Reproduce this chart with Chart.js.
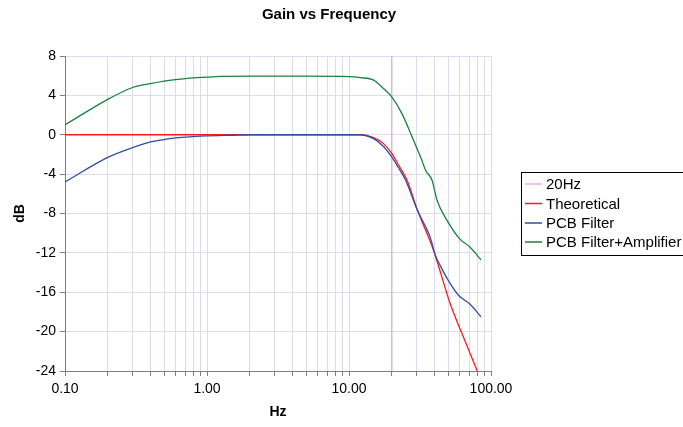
<!DOCTYPE html>
<html lang="en">
<head>
    <meta charset="UTF-8">
    <title>Gain vs Frequency</title>
    <style>
        body {
            margin: 0;
            padding: 0;
            background-color: #ffffff;
        }

        #chart-container {
            width: 683px;
            height: 427px;
        }
    </style>
</head>
<body>
    <div id="chart-container">
        <canvas id="gainChart"></canvas>
    </div>

    <script src="https://cdn.jsdelivr.net/npm/chart.js"></script>
    <script>
        // 20Hz marker line
        const markerFreq = [20, 20];
        const markerGain = [8, -24];

        // Theoretical response
        const theoFreq = [0.1, 0.2, 0.5, 1, 2, 5, 8, 10, 12, 14.9, 17.5, 20, 22.4, 25.6, 30.4, 39.4, 51.7, 65, 80];
        const theoGain = [0, 0, 0, 0, 0, 0, 0, 0, 0, -0.3, -0.9, -1.9, -3.1, -4.6, -7.7, -11.75, -17.2, -20.8, -24];

        // Measured PCB filter
        const pcbFreq = [0.1, 0.2, 0.3, 0.4, 0.5, 0.6, 0.8, 1, 1.5, 2, 5, 10, 12, 14.9, 17.5, 20, 22.4, 25, 30.4, 34.5, 37.3, 40.5, 44.3, 50, 59, 71, 85];
        const pcbGain = [-4.8, -2.3, -1.3, -0.73, -0.49, -0.32, -0.19, -0.12, -0.05, 0, 0, 0, 0, -0.4, -1.2, -2.25, -3.4, -4.6, -7.7, -9.3, -10.4, -12.2, -13.4, -14.8, -16.3, -17.2, -18.5];

        // Measured PCB filter + amplifier
        const ampFreq = [0.1, 0.2, 0.3, 0.4, 0.5, 0.6, 0.8, 1, 1.25, 2, 5, 10, 12, 14.9, 17.5, 20, 23.6, 27.8, 32.6, 34.6, 38.4, 41.8, 49, 60.4, 71, 85];
        const ampGain = [1.0, 3.6, 4.8, 5.2, 5.45, 5.6, 5.78, 5.85, 5.92, 5.95, 5.95, 5.9, 5.8, 5.55, 4.7, 3.85, 2.15, -0.2, -2.6, -3.6, -4.6, -6.7, -8.7, -10.6, -11.4, -12.7];

        // Axis ticks
        const yTicks = [-24, -20, -16, -12, -8, -4, 0, 4, 8];
        const decades = [0.1, 1, 10];
        const xTickLabels = ['0.10', '1.00', '10.00', '100.00'];

        const toPoints = (xs, ys) => xs.map((x, i) => ({ x: x, y: ys[i] }));

        const xTickValues = [];
        decades.forEach(d => {
            for (let m = 1; m <= 9; m++) {
                xTickValues.push(+(d * m).toPrecision(3));
            }
        });
        xTickValues.push(100);

        const FONT = 'Arial, "Liberation Sans", sans-serif';

        // Title and legend box drawn like the original spreadsheet chart
        const decorPlugin = {
            id: 'decor',
            afterDraw(chart) {
                const ctx = chart.ctx;
                ctx.save();
                ctx.fillStyle = '#000';
                ctx.font = 'bold 15px ' + FONT;
                ctx.textAlign = 'center';
                ctx.textBaseline = 'middle';
                ctx.fillText('Gain vs Frequency', 329, 15);

                // legend (runs off the right edge, as in the original)
                ctx.strokeStyle = '#000';
                ctx.lineWidth = 1;
                ctx.strokeRect(521.5, 172.5, 190, 83);
                ctx.font = '15px ' + FONT;
                ctx.textAlign = 'left';
                const rows = [184, 203.5, 223, 242];
                chart.data.datasets.forEach((ds, i) => {
                    ctx.strokeStyle = ds.borderColor;
                    ctx.lineWidth = 1.5;
                    ctx.beginPath();
                    ctx.moveTo(525, rows[i]);
                    ctx.lineTo(542, rows[i]);
                    ctx.stroke();
                    ctx.fillStyle = '#000';
                    ctx.fillText(ds.label, 546, rows[i] + 1);
                });
                ctx.restore();
            }
        };

        const ctx = document.getElementById('gainChart').getContext('2d');
        new Chart(ctx, {
            type: 'scatter',
            data: {
                datasets: [{
                    label: '20Hz',
                    data: toPoints(markerFreq, markerGain),
                    borderColor: '#e2b4dc',
                    borderWidth: 1.5,
                    order: 4
                }, {
                    label: 'Theoretical',
                    data: toPoints(theoFreq, theoGain),
                    borderColor: '#ff1a1a',
                    borderWidth: 1.3,
                    order: 3
                }, {
                    label: 'PCB Filter',
                    data: toPoints(pcbFreq, pcbGain),
                    borderColor: '#2f4fa3',
                    borderWidth: 1.3,
                    order: 2
                }, {
                    label: 'PCB Filter+Amplifier',
                    data: toPoints(ampFreq, ampGain),
                    borderColor: '#17833f',
                    borderWidth: 1.3,
                    order: 1
                }]
            },
            options: {
                responsive: true,
                maintainAspectRatio: false,
                animation: false,
                showLine: true,
                elements: {
                    point: { radius: 0, hoverRadius: 0 },
                    line: { cubicInterpolationMode: 'monotone' }
                },
                layout: {
                    padding: { top: 56, right: 192, bottom: 0, left: 0 }
                },
                plugins: {
                    legend: { display: false },
                    tooltip: { enabled: false }
                },
                scales: {
                    x: {
                        type: 'logarithmic',
                        min: 0.1,
                        max: 100,
                        afterBuildTicks: scale => {
                            scale.ticks = xTickValues.map(v => ({ value: v }));
                        },
                        afterFit: scale => { scale.height = 56; },
                        ticks: {
                            autoSkip: false,
                            maxRotation: 0,
                            padding: 5,
                            color: '#000',
                            font: { family: FONT, size: 14 },
                            callback: value => {
                                const k = [0.1, 1, 10, 100].indexOf(value);
                                return k >= 0 ? xTickLabels[k] : '';
                            }
                        },
                        grid: {
                            color: '#dcdcf0',
                            tickColor: '#808080',
                            tickLength: 5
                        },
                        border: { color: '#808080' },
                        title: {
                            display: true,
                            text: 'Hz',
                            color: '#000',
                            font: { family: FONT, size: 14, weight: 'bold' },
                            padding: { top: 0, bottom: 6 }
                        }
                    },
                    y: {
                        min: -24,
                        max: 8,
                        afterBuildTicks: scale => {
                            scale.ticks = yTicks.map(v => ({ value: v }));
                        },
                        afterFit: scale => { scale.width = 65; },
                        ticks: {
                            padding: 4,
                            color: '#000',
                            font: { family: FONT, size: 14 }
                        },
                        grid: {
                            color: '#dcdcf0',
                            tickColor: '#808080',
                            tickLength: 5
                        },
                        border: { color: '#808080' },
                        title: {
                            display: true,
                            text: 'dB',
                            color: '#000',
                            font: { family: FONT, size: 14, weight: 'bold' },
                            padding: { top: 12, bottom: 0 }
                        }
                    }
                }
            },
            plugins: [decorPlugin]
        });
    </script>
</body>
</html>
